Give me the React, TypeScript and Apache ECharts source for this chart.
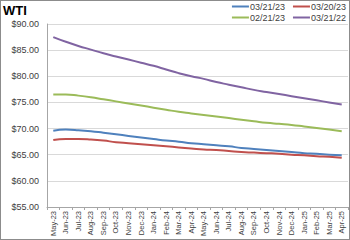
import React, { useEffect, useRef } from "react";
import * as echarts from "echarts";

const categories = [
  "May-23", "Jun-23", "Jul-23", "Aug-23", "Sep-23", "Oct-23", "Nov-23", "Dec-23",
  "Jan-24", "Feb-24", "Mar-24", "Apr-24", "May-24", "Jun-24", "Jul-24", "Aug-24",
  "Sep-24", "Oct-24", "Nov-24", "Dec-24", "Jan-25", "Feb-25", "Mar-25", "Apr-25",
];

const s032123 = [69.6, 69.8, 69.7, 69.5, 69.2, 68.9, 68.6, 68.3, 68.0, 67.7, 67.5, 67.2,
  67.0, 66.8, 66.6, 66.3, 66.1, 65.9, 65.7, 65.5, 65.3, 65.2, 65.0, 64.9];
const s032023 = [67.8, 68.0, 68.0, 67.9, 67.7, 67.4, 67.2, 67.0, 66.8, 66.6, 66.4, 66.2,
  66.0, 65.9, 65.7, 65.5, 65.4, 65.3, 65.2, 65.0, 64.9, 64.7, 64.6, 64.4];
const s022123 = [76.5, 76.5, 76.3, 76.0, 75.6, 75.2, 74.8, 74.4, 74.0, 73.6, 73.2, 72.9,
  72.6, 72.3, 72.0, 71.7, 71.4, 71.1, 70.9, 70.7, 70.4, 70.1, 69.8, 69.5];
const s032122 = [87.5, 86.6, 85.8, 85.1, 84.4, 83.8, 83.2, 82.6, 82.0, 81.3, 80.6, 80.0,
  79.5, 78.9, 78.4, 77.9, 77.4, 77.0, 76.6, 76.2, 75.8, 75.4, 75.0, 74.6];

const seriesNames = ["03/21/23", "03/20/23", "02/21/23", "03/21/22"];
const seriesColors = ["#4F81BD", "#C0504D", "#9BBB59", "#8064A2"];
const seriesData = [s032123, s032023, s022123, s032122];

const yMin = 55;
const yMax = 90;
const yInterval = 5;

export default function App() {
  const ref = useRef<HTMLDivElement>(null);
  useEffect(() => {
    if (!ref.current) return;
    const chart = echarts.init(ref.current, null, { renderer: "svg" });
    const font = "'Liberation Sans', Arial, sans-serif";
    const legendCommon = {
      icon: "rect",
      orient: "horizontal",
      itemWidth: 17,
      itemHeight: 2,
      itemGap: 8,
      padding: 0,
      right: 3,
      width: 120,
      textStyle: { fontSize: 9, color: "#404040", fontFamily: font, padding: [0, 0, 0, -4] },
    };
    chart.setOption({
      animation: false,
      backgroundColor: "#fff",
      title: {
        text: "WTI",
        left: 2,
        top: 3,
        padding: 0,
        textStyle: { fontSize: 13, fontWeight: "bold", color: "#000", fontFamily: font },
      },
      legend: [
        { ...legendCommon, data: [seriesNames[0], seriesNames[1]], top: 1 },
        { ...legendCommon, data: [seriesNames[2], seriesNames[3]], top: 12 },
      ],
      grid: { left: 46, right: 1, top: 23, bottom: 30 },
      xAxis: {
        type: "category",
        data: categories,
        boundaryGap: true,
        axisLine: { lineStyle: { color: "#A6A6A6" } },
        axisTick: { show: true, length: 3, lineStyle: { color: "#A6A6A6" } },
        axisLabel: { rotate: 90, fontSize: 7.5, color: "#404040", fontFamily: font, interval: 0, margin: 4 },
      },
      yAxis: {
        type: "value",
        min: yMin,
        max: yMax,
        interval: yInterval,
        axisLine: { show: true, lineStyle: { color: "#A6A6A6" } },
        axisTick: { show: false },
        splitLine: { lineStyle: { color: "#D9D9D9" } },
        axisLabel: {
          fontSize: 9,
          color: "#404040",
          fontFamily: font,
          margin: 8,
          formatter: (v: number) => "$" + v.toFixed(2),
        },
      },
      series: seriesNames.map((name, i) => ({
        name,
        type: "line",
        data: seriesData[i],
        smooth: true,
        showSymbol: false,
        symbol: "none",
        lineStyle: { width: 2, color: seriesColors[i] },
        itemStyle: { color: seriesColors[i] },
      })),
    });
    return () => chart.dispose();
  }, []);
  return (
    <div
      style={{
        position: "fixed",
        left: 0,
        top: 0,
        width: 350,
        height: 240,
        boxSizing: "border-box",
        border: "1px solid #8C8C8C",
        background: "#fff",
      }}
    >
      <div ref={ref} style={{ width: 348, height: 238 }} />
    </div>
  );
}
